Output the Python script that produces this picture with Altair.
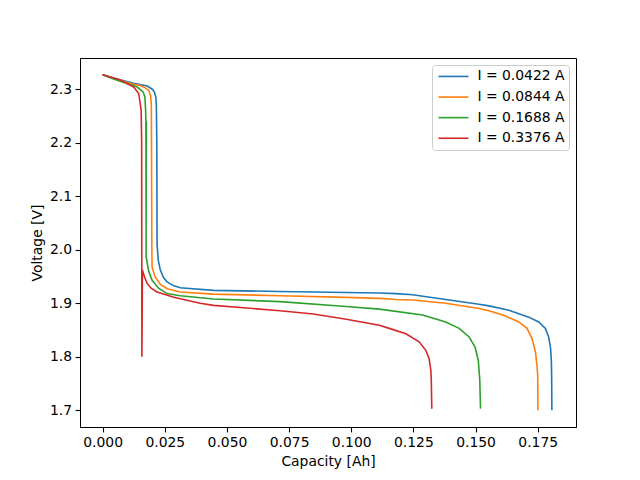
import altair as alt
import pandas as pd

labels = ["I = 0.0422 A", "I = 0.0844 A", "I = 0.1688 A", "I = 0.3376 A"]
colors = ["#1f77b4", "#ff7f0e", "#2ca02c", "#d62728"]

cap_1 = [0.0, 0.005, 0.0125, 0.0179, 0.0200, 0.0208, 0.0214, 0.0216, 0.0218, 0.0219, 0.0224, 0.0232,
         0.0245, 0.0259, 0.0285, 0.0312, 0.0446, 0.0713, 0.098, 0.1113, 0.118, 0.1247, 0.138, 0.1514,
         0.1554, 0.1634, 0.1714, 0.1754, 0.1781, 0.1794, 0.1802, 0.1805, 0.1806, 0.1807]
volt_1 = [2.327, 2.320, 2.311, 2.306, 2.300, 2.295, 2.285, 2.273, 2.20, 2.01, 1.98, 1.962,
          1.948, 1.940, 1.933, 1.929, 1.924, 1.922, 1.920, 1.919, 1.918, 1.916, 1.907, 1.898,
          1.895, 1.887, 1.874, 1.865, 1.853, 1.837, 1.815, 1.790, 1.765, 1.70]

cap_2 = [0.0, 0.005, 0.0125, 0.0152, 0.0170, 0.0185, 0.0193, 0.0196, 0.0198, 0.0199, 0.0210, 0.0232,
         0.0260, 0.0312, 0.0446, 0.0713, 0.098, 0.1113, 0.118, 0.1247, 0.138, 0.1514, 0.1554,
         0.1621, 0.1674, 0.1707, 0.1727, 0.1741, 0.1747, 0.1750, 0.1751]
volt_2 = [2.327, 2.319, 2.309, 2.307, 2.303, 2.298, 2.288, 2.270, 2.00, 1.968, 1.950, 1.935,
          1.927, 1.921, 1.917, 1.914, 1.911, 1.909, 1.907, 1.906, 1.900, 1.890, 1.886,
          1.876, 1.865, 1.853, 1.834, 1.809, 1.784, 1.765, 1.70]

cap_3 = [0.0, 0.005, 0.0139, 0.0155, 0.0163, 0.0170, 0.0173, 0.0174, 0.0175, 0.0176, 0.0175, 0.0175,
         0.0185, 0.0199, 0.0225, 0.0259, 0.0312, 0.0446, 0.0713, 0.098, 0.1113, 0.1287, 0.1380,
         0.1434, 0.1474, 0.1498, 0.1511, 0.1517, 0.1520]
volt_3 = [2.327, 2.318, 2.304, 2.298, 2.295, 2.285, 2.260, 2.239, 2.052, 2.239, 2.052, 1.987,
          1.960, 1.943, 1.928, 1.918, 1.914, 1.908, 1.903, 1.894, 1.889, 1.878, 1.865,
          1.853, 1.837, 1.818, 1.793, 1.756, 1.703]

cap_4 = [0.0, 0.0072, 0.0125, 0.0145, 0.0155, 0.0157, 0.0158, 0.0160, 0.0168, 0.0179, 0.0195,
         0.0219, 0.0286, 0.0392, 0.0446, 0.0580, 0.0713, 0.0847, 0.098, 0.1113, 0.1153, 0.1220,
         0.1273, 0.1300, 0.1313, 0.1320, 0.1322, 0.1324]
volt_4 = [2.327, 2.317, 2.304, 2.292, 2.261, 2.20, 1.80, 1.962, 1.950, 1.937, 1.928,
          1.921, 1.911, 1.900, 1.896, 1.891, 1.886, 1.880, 1.870, 1.859, 1.853, 1.843,
          1.828, 1.812, 1.797, 1.775, 1.756, 1.703]

x_ticks = [0.0, 0.025, 0.05, 0.075, 0.1, 0.125, 0.15, 0.175]
y_ticks = [1.7, 1.8, 1.9, 2.0, 2.1, 2.2, 2.3]

rows = []
for lab, caps, volts in zip(labels, [cap_1, cap_2, cap_3, cap_4], [volt_1, volt_2, volt_3, volt_4]):
    for i, (c, v) in enumerate(zip(caps, volts)):
        rows.append({"series": lab, "cap": c, "volt": v, "i": i})
df = pd.DataFrame(rows)

FONT = "DejaVu Sans"

chart = alt.Chart(df).mark_line(strokeWidth=1.6, clip=True).encode(
    x=alt.X("cap:Q", title="Capacity [Ah]",
            scale=alt.Scale(domain=[-0.0091, 0.1904], nice=False, zero=False),
            axis=alt.Axis(values=x_ticks, format=".3f", grid=False)),
    y=alt.Y("volt:Q", title="Voltage [V]",
            scale=alt.Scale(domain=[1.6687, 2.3583], nice=False, zero=False),
            axis=alt.Axis(values=y_ticks, format=".1f", grid=False)),
    color=alt.Color("series:N", title=None,
                    scale=alt.Scale(domain=labels, range=colors),
                    legend=alt.Legend(orient="none", legendX=352, legendY=7,
                                      symbolType="M-1,0H5", symbolSize=100,
                                      symbolStrokeWidth=1.6, labelFontSize=13.9,
                                      labelFont=FONT, labelColor="black",
                                      padding=4.5, rowPadding=5.6, labelOffset=27,
                                      strokeColor="#cccccc", fillColor="white",
                                      cornerRadius=3)),
    order="i:Q",
).properties(
    width=496, height=369,
    autosize=alt.AutoSizeParams(type="none"),
    padding={"left": 72, "top": 50, "right": 10, "bottom": 50},
).configure_view(
    stroke="black", strokeWidth=1
).configure_axis(
    labelFont=FONT, titleFont=FONT, labelFontSize=13.9, titleFontSize=13.9,
    titleFontWeight="normal", labelColor="black", titleColor="black",
    domainColor="black", tickColor="black", tickSize=4.9, tickWidth=1.1,
    domainWidth=1, labelPadding=3.5, titlePadding=5
)

chart.save("out.html", embed_options={"renderer": "svg", "actions": False})
